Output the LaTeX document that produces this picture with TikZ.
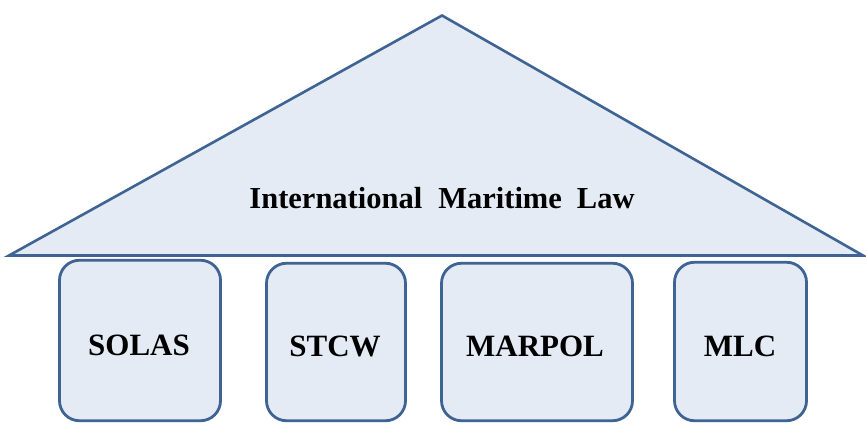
\documentclass[tikz,border=0pt]{standalone}
\usepackage{fontspec}
\setmainfont{Liberation Serif}
\definecolor{edge}{HTML}{3F6392}
\definecolor{fillc}{HTML}{E4EBF5}
\tikzset{
  pillar/.style={draw=edge, fill=fillc, line width=2.8pt, rounded corners=20pt, inner sep=0pt},
  lbl/.style={font=\fontsize{31}{36}\selectfont\bfseries, anchor=base, inner sep=0pt},
  roof/.style={draw=edge, fill=fillc, line width=2.6pt, line join=miter}
}
\begin{document}
\begin{tikzpicture}[x=1pt,y=-1pt]
\useasboundingbox (0,0) rectangle (866,425);
% roof
\coordinate (apex) at (442,15.5);
\coordinate (bl) at (9,255.5);
\coordinate (br) at (863,255.5);
\draw[roof] (bl) -- (apex) -- (br) -- cycle;
\draw[draw=edge, line width=3.8pt] (bl) -- (br);
\node[font=\fontsize{30.5}{36}\selectfont\bfseries, anchor=base, inner sep=0pt] (title) at (442,208.5) {International\hspace{16pt}Maritime\hspace{15pt}Law};
% pillars
\node[pillar, minimum width=161pt, minimum height=160.5pt] (solas) at (140,340.5) {};
\node[pillar, minimum width=139pt, minimum height=157.5pt] (stcw) at (336,342) {};
\node[pillar, minimum width=191pt, minimum height=157.5pt] (marpol) at (537,342) {};
\node[pillar, minimum width=132pt, minimum height=158.5pt] (mlc) at (740.5,341.5) {};
\node[lbl] (tsolas) at (139,355) {SOLAS};
\node[lbl] (tstcw) at (335,356) {STCW};
\node[lbl] (tmarpol) at (535,356) {MARPOL};
\node[lbl] (tmlc) at (740,356) {MLC};
\end{tikzpicture}
\end{document}
